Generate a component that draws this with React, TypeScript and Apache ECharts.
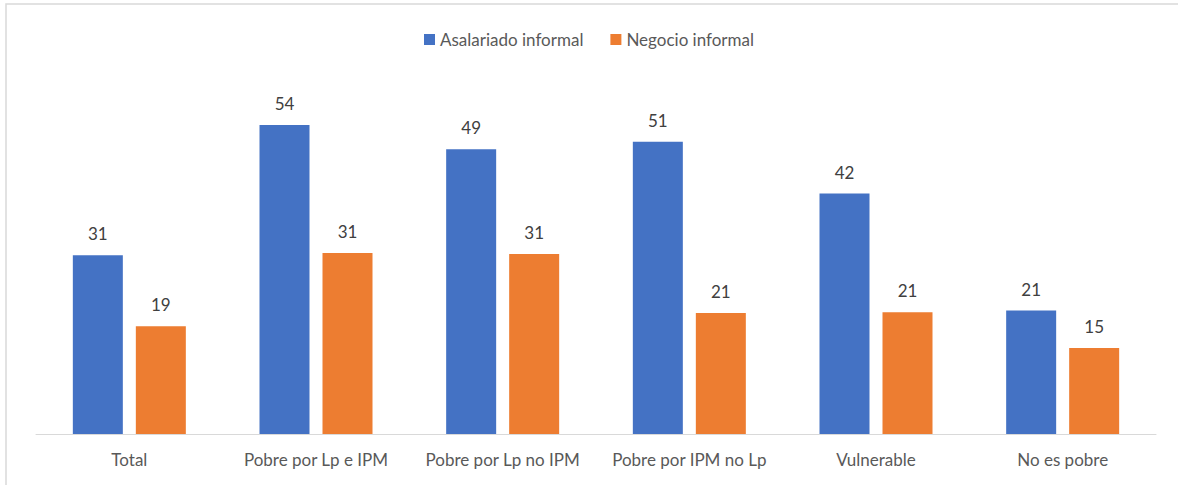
import React, { useEffect, useRef } from "react";
import * as echarts from "echarts";

const categories = ["Total", "Pobre por Lp e IPM", "Pobre por Lp no IPM", "Pobre por IPM no Lp", "Vulnerable", "No es pobre"];
const asalariado = [31.0, 53.6, 49.4, 50.7, 41.7, 21.4];
const negocio = [18.7, 31.4, 31.2, 21.0, 21.1, 14.9];
const seriesNames = ["Asalariado informal", "Negocio informal"];

const FONT = "Lato, 'Open Sans', sans-serif";

export default function App() {
  const ref = useRef<HTMLDivElement>(null);
  useEffect(() => {
    document.body.style.margin = "0";
    const chart = echarts.init(ref.current!, null, { renderer: "svg" });
    const label = {
      show: true,
      position: "top",
      distance: 13,
      color: "#404040",
      fontSize: 17,
      fontFamily: FONT,
      formatter: (p: any) => String(Math.round(p.value)),
    };
    chart.setOption({
      animation: false,
      backgroundColor: "#ffffff",
      graphic: [
        {
          type: "rect",
          shape: { x: 6, y: 4, width: 1300, height: 600 },
          style: { fill: "none", stroke: "#d9d9d9", lineWidth: 1.5 },
          silent: true,
        },
      ],
      legend: {
        top: 26,
        left: "center",
        itemWidth: 11,
        itemHeight: 11,
        itemGap: 27,
        icon: "rect",
        textStyle: { color: "#595959", fontSize: 17, fontFamily: FONT },
        data: seriesNames,
      },
      grid: { left: 36, right: 22, top: 88, bottom: 51 },
      xAxis: {
        type: "category",
        data: categories,
        axisLine: { lineStyle: { color: "#d9d9d9", width: 1 } },
        axisTick: { show: false },
        axisLabel: { color: "#595959", fontSize: 17, fontFamily: FONT, margin: 17, interval: 0 },
      },
      yAxis: {
        type: "value",
        min: 0,
        max: 60,
        show: false,
        splitLine: { show: false },
      },
      series: [
        {
          name: seriesNames[0],
          type: "bar",
          data: asalariado,
          barWidth: 50,
          barGap: "26%",
          itemStyle: { color: "#4472c4" },
          label,
        },
        {
          name: seriesNames[1],
          type: "bar",
          data: negocio,
          barWidth: 50,
          barGap: "26%",
          itemStyle: { color: "#ed7d31" },
          label,
        },
      ],
    });
    return () => chart.dispose();
  }, []);
  return <div ref={ref} style={{ width: 1178, height: 485 }} />;
}
